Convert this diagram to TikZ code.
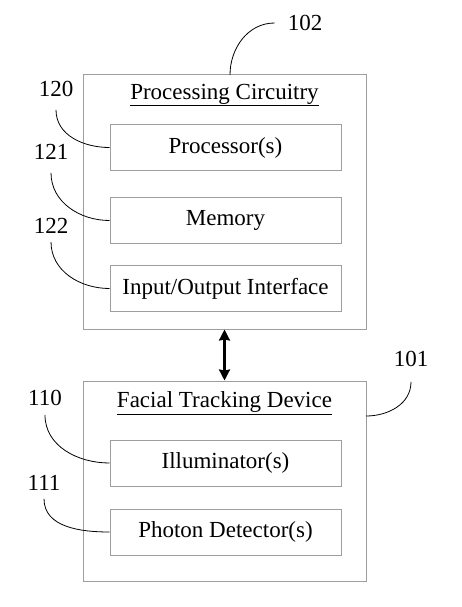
\documentclass[tikz,border=0pt]{standalone}
\usepackage{fontspec}
\setmainfont{Liberation Serif}
\usetikzlibrary{positioning}
\usetikzlibrary{arrows.meta}
\definecolor{boxgray}{rgb}{0.62,0.62,0.62}
\tikzset{every picture/.style={
    every node/.style={font=\fontsize{23}{27}\selectfont},
}}
\tikzset{
    outerbox/.style={draw=boxgray, line width=1pt, minimum width=283pt, inner sep=0pt},
    innerbox/.style={draw=boxgray, line width=1pt, minimum width=231pt, minimum height=46pt, inner sep=0pt},
    refnum/.style={inner sep=3pt},
    leader/.style={line width=0.8pt},
}

\begin{document}
\begin{tikzpicture}[x=1pt,y=1pt]
    \useasboundingbox (0,0) rectangle (462,-607);
    % processing circuitry
    \node[outerbox, minimum height=254pt] (pc) at (224.5,-202) {};
    \node (pctitle) at (224.5,-95) {\underline{Processing Circuitry}};
    \node[innerbox] (proc) at (225.5,-147.5) {Processor(s)};
    \node[innerbox, below=26pt of proc] (mem) {Memory};
    \node[innerbox, below=21pt of mem] (io) {Input/Output Interface};
    % facial tracking device
    \node[outerbox, minimum height=200pt] (ftd) at (224.5,-481) {};
    \node (ftdtitle) at (224.5,-403) {\underline{Facial Tracking Device}};
    \node[innerbox] (ill) at (225.5,-463) {Illuminator(s)};
    \node[innerbox, below=22pt of ill] (pd) {Photon Detector(s)};
    \draw[{Stealth[length=11pt,width=11pt,inset=1pt]}-{Stealth[length=11pt,width=11pt,inset=1pt]}, line width=2.2pt] (pc.south) -- (ftd.north);
    % reference numerals
    \node[refnum] (lab102) at (305,-23) {102};
    \node[refnum] (lab120) at (56,-89) {120};
    \node[refnum] (lab121) at (51,-152) {121};
    \node[refnum] (lab122) at (51,-226) {122};
    \node[refnum] (lab101) at (411,-359) {101};
    \node[refnum] (lab110) at (45,-398) {110};
    \node[refnum] (lab111) at (44,-483) {111};
    \coordinate (pctop) at (230,-75);
    \coordinate (ftdside) at (366,-416);
    \draw[leader] (pctop) to[out=90,in=180] ([xshift=-10pt]lab102.west);
    \draw[leader] ([yshift=-10pt]lab120.south) to[out=-90,in=180] (proc.west);
    \draw[leader] ([yshift=-10pt]lab121.south) to[out=-90,in=180] (mem.west);
    \draw[leader] ([yshift=-5pt]lab122.south) to[out=-90,in=180] (io.west);
    \draw[leader] ([yshift=-12pt]lab101.south) to[out=-90,in=0] (ftdside);
    \draw[leader] ([yshift=-6pt]lab110.south) to[out=-90,in=180] (ill.west);
    \draw[leader] ([yshift=-5pt]lab111.south) to[out=-90,in=180] (pd.west);
\end{tikzpicture}
\end{document}
